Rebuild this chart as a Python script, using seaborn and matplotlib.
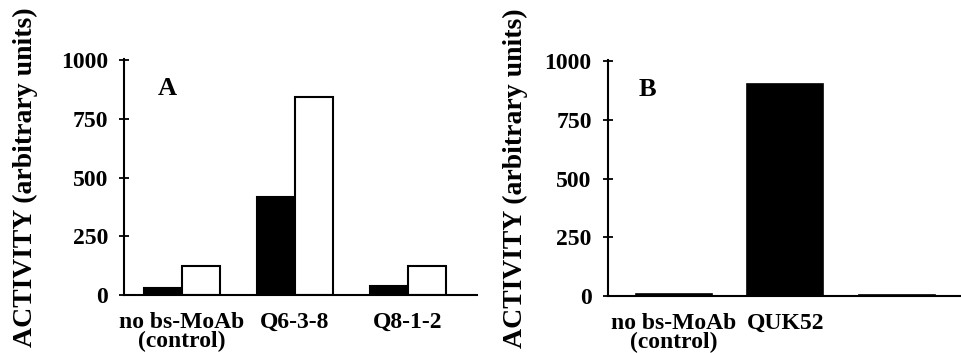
import numpy as np
import pandas as pd
import matplotlib
matplotlib.use('Agg')
import matplotlib.pyplot as plt
import seaborn as sns

# panel A: two series per antibody
cats_a = ['no bs-MoAb\n(control)', 'Q6-3-8', 'Q8-1-2']
black_a = [30, 418, 38]
white_a = [122, 843, 122]

# panel B: one series
cats_b = ['no bs-MoAb\n(control)', 'QUK52', ' ']
vals_b = [10, 902, 4]

ylabel = 'ACTIVITY (arbitrary units)'
yticks = [0, 250, 500, 750, 1000]

sns.set_style('white')
plt.rcParams['font.family'] = ['Liberation Serif', 'DejaVu Serif']
plt.rcParams['font.weight'] = 'bold'
plt.rcParams['text.color'] = 'black'
plt.rcParams['axes.labelcolor'] = 'black'
plt.rcParams['xtick.color'] = 'black'
plt.rcParams['ytick.color'] = 'black'

df_a = pd.DataFrame({
    'cat': cats_a * 2,
    'val': black_a + white_a,
    'series': ['black'] * 3 + ['white'] * 3,
})
df_b = pd.DataFrame({'cat': cats_b, 'val': vals_b})

fig = plt.figure(figsize=(9.62, 3.53), dpi=100)
ax_a = fig.add_axes([124 / 962, 1 - 295 / 353, (477 - 124) / 962, (295 - 59) / 353])
ax_b = fig.add_axes([607.7 / 962, 1 - 296 / 353, (962 - 607.7) / 962, (296 - 60) / 353])

sns.barplot(data=df_a, x='cat', y='val', hue='series', order=cats_a,
            palette={'black': 'black', 'white': 'white'}, edgecolor='black',
            linewidth=1.5, width=0.67, legend=False, ax=ax_a)
sns.barplot(data=df_b, x='cat', y='val', order=cats_b, color='black',
            edgecolor='black', linewidth=1.2, width=0.68, ax=ax_b)

for ax, xlim, letter, lx, labx in [(ax_a, (-0.51, 2.61), 'A', -0.13, -0.244),
                                   (ax_b, (-0.59, 2.58), 'B', -0.23, -0.225)]:
    ax.set_xlim(*xlim)
    ax.set_ylim(0, 1005)
    ax.set_yticks(yticks)
    ax.set_xlabel('')
    ax.set_ylabel(ylabel, fontsize=20, fontweight='bold', color='black')
    ax.yaxis.set_label_coords(labx, 0.5)
    for s in ['top', 'right']:
        ax.spines[s].set_visible(False)
    for s in ['left', 'bottom']:
        ax.spines[s].set_linewidth(1.5)
        ax.spines[s].set_color('black')
    ax.tick_params(axis='y', direction='inout', length=7, width=1.3, pad=8,
                   labelsize=17, left=True, colors='black')
    ax.tick_params(axis='x', length=0, pad=12, labelsize=17, colors='black')
    for t in ax.get_xticklabels():
        t.set_linespacing(0.9)
    ax.text(lx, 880, letter, fontsize=19, fontweight='bold', ha='center',
            va='center', color='black')

plt.savefig('out.png', dpi=100)
